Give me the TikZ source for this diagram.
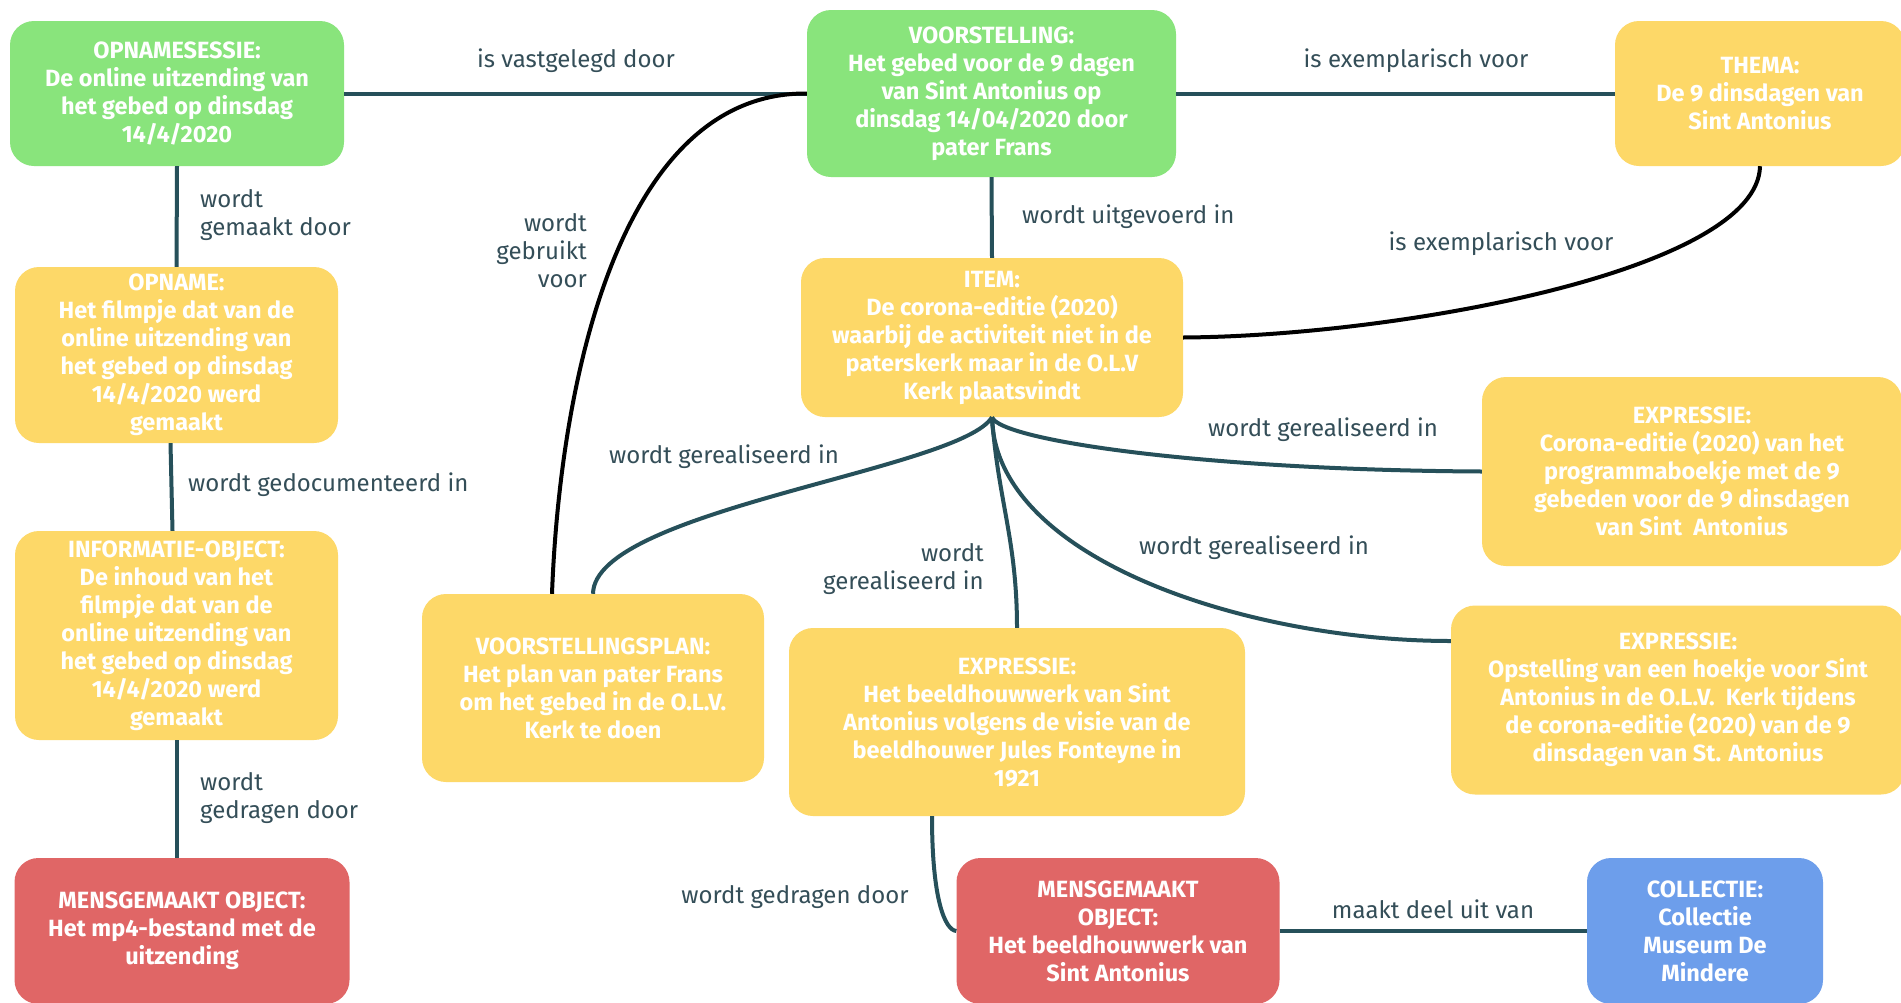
\documentclass[tikz,border=0pt]{standalone}
\usepackage{fontspec}
\setmainfont{Fira Sans}
\definecolor{cgreen}{RGB}{137,228,124}
\definecolor{cyellow}{RGB}{253,216,104}
\definecolor{cred}{RGB}{224,102,102}
\definecolor{cblue}{RGB}{109,158,235}
\definecolor{cline}{RGB}{38,80,90}
\definecolor{clabel}{RGB}{52,78,88}
\tikzset{
  box/.style={rounded corners=24pt, inner sep=0pt, align=center, text=white,
    font=\fontsize{23.5}{28}\selectfont\bfseries},
  lbl/.style={text=clabel, inner sep=0pt, font=\fontsize{24}{28}\selectfont},
  conn/.style={draw=cline, line width=4pt},
  bconn/.style={draw=black, line width=4pt},
}
\begin{document}
\begin{tikzpicture}[x=1pt,y=-1pt]
\clip (0,0) rectangle (1901,1002);
\fill[white] (0,0) rectangle (1901,1002);
% nodes
\node[box, fill=cgreen, minimum width=334pt, minimum height=145pt] (n1) at (177,93.5)
  {OPNAMESESSIE:\\De online uitzending van\\het gebed op dinsdag\\14/4/2020};
\node[box, fill=cgreen, minimum width=369pt, minimum height=167pt] (n2) at (991.5,93.5)
  {VOORSTELLING:\\Het gebed voor de 9 dagen\\van Sint Antonius op\\dinsdag 14/04/2020 door\\pater Frans};
\node[box, fill=cyellow, minimum width=290pt, minimum height=145pt] (n3) at (1760,93.5)
  {THEMA:\\De 9 dinsdagen van\\Sint Antonius};
\node[box, fill=cyellow, minimum width=323pt, minimum height=176pt] (n4) at (176.5,355)
  {OPNAME:\\Het filmpje dat van de\\online uitzending van\\het gebed op dinsdag\\14/4/2020 werd\\gemaakt};
\node[box, fill=cyellow, minimum width=382pt, minimum height=159pt] (n5) at (992,337.5)
  {ITEM:\\De corona-editie (2020)\\waarbij de activiteit niet in de\\paterskerk maar in de O.L.V\\Kerk plaatsvindt};
\node[box, fill=cyellow, minimum width=420pt, minimum height=189pt] (n6) at (1692,471.5)
  {EXPRESSIE:\\Corona-editie (2020) van het\\programmaboekje met de 9\\gebeden voor de 9 dinsdagen\\van Sint\ \ Antonius};
\node[box, fill=cyellow, minimum width=323pt, minimum height=209pt] (n7) at (176.5,635.5)
  {INFORMATIE-OBJECT:\\De inhoud van het\\filmpje dat van de\\online uitzending van\\het gebed op dinsdag\\14/4/2020 werd\\gemaakt};
\node[box, fill=cyellow, minimum width=342pt, minimum height=188pt] (n8) at (593,688)
  {VOORSTELLINGSPLAN:\\Het plan van pater Frans\\om het gebed in de O.L.V.\\Kerk te doen};
\node[box, fill=cyellow, minimum width=456pt, minimum height=188pt] (n9) at (1017,722)
  {EXPRESSIE:\\Het beeldhouwwerk van Sint\\Antonius volgens de visie van de\\beeldhouwer Jules Fonteyne in\\1921};
\node[box, fill=cyellow, minimum width=454pt, minimum height=189pt] (n10) at (1678,700)
  {EXPRESSIE:\\Opstelling van een hoekje voor Sint\\Antonius in de O.L.V.\ \ Kerk tijdens\\de corona-editie (2020) van de 9\\dinsdagen van St. Antonius};
\node[box, fill=cred, minimum width=335pt, minimum height=146pt] (n11) at (182,931)
  {MENSGEMAAKT OBJECT:\\Het mp4-bestand met de\\uitzending};
\node[box, fill=cred, minimum width=323pt, minimum height=146pt] (n12) at (1118,931)
  {MENSGEMAAKT\\OBJECT:\\Het beeldhouwwerk van\\Sint Antonius};
\node[box, fill=cblue, minimum width=236pt, minimum height=146pt] (n13) at (1705,931)
  {COLLECTIE:\\Collectie\\Museum De\\Mindere};
% connectors
\draw[conn] (n1.east) -- (n2.west);
\draw[conn] (n2.east) -- (n3.west);
\draw[conn] (n2.south) -- (n5.north);
\draw[bconn] (n3.south) .. controls (1758,270) and (1400,336) .. (n5.east);
\draw[conn] (n1.south) -- (n4.north);
\draw[conn] ([xshift=-6pt]n4.south) -- ([xshift=-4pt]n7.north);
\draw[conn] (n7.south) -- (n7.south |- n11.north);
\draw[bconn] ([xshift=-41pt]n8.north) .. controls (560,380) and (620,92) .. (n2.west);
\draw[conn] (n5.south) .. controls (960,470) and (594,510) .. (n8.north);
\draw[conn] (n5.south) .. controls (998,500) and (1017,540) .. (n9.north);
\draw[conn] (n5.south) .. controls (1000,440) and (1200,470) .. (n6.west);
\draw[conn] (n5.south) .. controls (995,560) and (1250,641) .. ([yshift=59pt]n10.west);
\draw[conn] ([xshift=-85pt]n9.south) .. controls (932,900) and (945,930) .. (n12.west);
\draw[conn] (n12.east) -- (n12.east -| n13.west);
% labels
\node[lbl] (l1) at (576,61) {is vastgelegd door};
\node[lbl] (l2) at (1416,61) {is exemplarisch voor};
\node[lbl, anchor=west] (l3) at (1022,217) {wordt uitgevoerd in};
\node[lbl] (l4) at (1501,244) {is exemplarisch voor};
\node[lbl, anchor=west, align=left] (l5) at (200,215) {wordt\\gemaakt door};
\node[lbl, anchor=west] (l6) at (188,485) {wordt gedocumenteerd in};
\node[lbl, anchor=west, align=left] (l7) at (200,798) {wordt\\gedragen door};
\node[lbl, anchor=east, align=right] (l8) at (587,251) {wordt\\gebruikt\\voor};
\node[lbl] (l9) at (724,457) {wordt gerealiseerd in};
\node[lbl, anchor=east, align=right] (l10) at (984,569) {wordt\\gerealiseerd in};
\node[lbl] (l11) at (1323,430) {wordt gerealiseerd in};
\node[lbl] (l12) at (1254,548) {wordt gerealiseerd in};
\node[lbl] (l13) at (795,897) {wordt gedragen door};
\node[lbl] (l14) at (1433,909) {maakt deel uit van};
\end{tikzpicture}
\end{document}
